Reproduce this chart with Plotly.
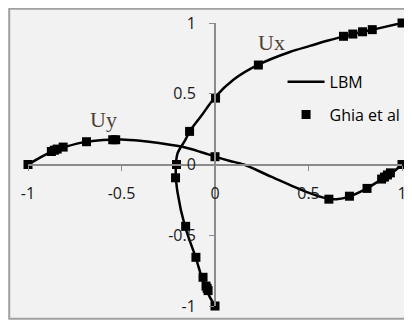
import plotly.graph_objects as go

# ---- data ----
# LBM, horizontal velocity Ux along the vertical centreline (x = Ux, y = position)
lbm_ux_u = [0.0, -0.03, -0.065, -0.105, -0.16, -0.2, -0.21, -0.2, -0.16, -0.135, -0.07, 0.0, 0.1, 0.232, 0.4, 0.508, 0.6, 0.75, 0.85, 1.0]
lbm_ux_y = [-1.0, -0.93, -0.82, -0.65, -0.44, -0.2, -0.05, 0.08, 0.17, 0.235, 0.35, 0.475, 0.6, 0.705, 0.795, 0.838, 0.875, 0.925, 0.955, 1.0]
# LBM, vertical velocity Uy along the horizontal centreline (x = position, y = Uy)
lbm_uy_x = [-1.0, -0.94, -0.87, -0.8, -0.7, -0.6, -0.5, -0.4, -0.3, -0.175, -0.08, 0.0, 0.08, 0.154, 0.3, 0.488, 0.6, 0.65, 0.72, 0.81, 0.89, 0.95, 1.0]
lbm_uy_v = [0.0, 0.045, 0.095, 0.125, 0.158, 0.174, 0.177, 0.168, 0.152, 0.125, 0.09, 0.056, 0.025, 0.0, -0.086, -0.193, -0.24, -0.245, -0.225, -0.17, -0.105, -0.055, 0.0]

# Ghia et al reference points
ghia_ux_u = [0.0, -0.037, -0.042, -0.048, -0.064, -0.102, -0.157, -0.211, -0.206, -0.136, 0.003, 0.232, 0.687, 0.737, 0.789, 0.841, 1.0]
ghia_ux_y = [-1.0, -0.891, -0.875, -0.859, -0.797, -0.656, -0.437, -0.094, 0.0, 0.234, 0.469, 0.703, 0.906, 0.922, 0.938, 0.953, 1.0]
ghia_uy_x = [1.0, 0.938, 0.922, 0.906, 0.891, 0.813, 0.719, 0.609, 0.0, -0.531, -0.547, -0.687, -0.812, -0.844, -0.859, -0.875, -1.0]
ghia_uy_v = [0.0, -0.059, -0.074, -0.089, -0.103, -0.169, -0.224, -0.245, 0.055, 0.175, 0.175, 0.161, 0.123, 0.109, 0.101, 0.092, 0.0]

tick_vals = [-1, -0.5, 0, 0.5, 1]
tick_text = ["-1", "-0.5", "0", "0.5", "1"]

# ---- figure ----
W, H = 412, 320
OFF = 8  # page offset of the figure inside the browser window
L, R, T, B = 19.8, 18, 15.3, 22.3
pw, ph = W - L - R, H - T - B

def px2paper_x(sx):
    return (sx - OFF - L) / pw

def px2paper_y(sy):
    return (H - B - (sy - OFF)) / ph

fig = go.Figure()
fig.add_trace(go.Scatter(x=lbm_ux_u, y=lbm_ux_y, mode="lines", name="LBM", cliponaxis=False,
                         line=dict(color="black", width=2.5, shape="spline", smoothing=0.8),
                         legendgroup="a"))
fig.add_trace(go.Scatter(x=lbm_uy_x, y=lbm_uy_v, mode="lines", name="LBM", showlegend=False,
                         cliponaxis=False,
                         line=dict(color="black", width=2.5, shape="spline", smoothing=0.8),
                         legendgroup="a"))
fig.add_trace(go.Scatter(x=ghia_ux_u, y=ghia_ux_y, mode="markers", name="Ghia et al",
                         cliponaxis=False,
                         marker=dict(symbol="square", size=9, color="black"),
                         legendgroup="b"))
fig.add_trace(go.Scatter(x=ghia_uy_x, y=ghia_uy_v, mode="markers", name="Ghia et al", showlegend=False,
                         cliponaxis=False,
                         marker=dict(symbol="square", size=9, color="black"),
                         legendgroup="b"))

axis_common = dict(range=[-1, 1], tickvals=tick_vals, ticktext=tick_text, showgrid=False,
                   zeroline=False, showline=True, linecolor="#8c8c8c", linewidth=2,
                   ticks="outside", ticklen=5, tickwidth=1, tickcolor="#8c8c8c",
                   tickfont=dict(family="Open Sans", size=16, color="#1a1a1a"),
                   anchor="free", position=0.5, automargin=False, fixedrange=True)

fig.update_layout(
    width=W, height=H,
    margin=dict(l=L, r=R, t=T, b=B, pad=0, autoexpand=False),
    paper_bgcolor="white", plot_bgcolor="rgba(0,0,0,0)",
    xaxis=dict(**axis_common, ticklabelstandoff=9),
    yaxis=dict(**axis_common, ticklabelstandoff=10),
    showlegend=True,
    legend=dict(x=px2paper_x(282.5), y=px2paper_y(65), xanchor="left", yanchor="top",
                bgcolor="rgba(0,0,0,0)", font=dict(family="Open Sans", size=16, color="black"),
                traceorder="grouped", tracegroupgap=9, itemwidth=37),
    shapes=[dict(type="rect", xref="paper", yref="paper",
                 x0=px2paper_x(9), x1=px2paper_x(440), y0=px2paper_y(318.5), y1=px2paper_y(9),
                 fillcolor="#f2f2f2", line=dict(color="#a0a0a0", width=2), layer="below")],
    annotations=[
        dict(x=0.30, y=0.865, text="Ux", showarrow=False, xref="x", yref="y",
             font=dict(family="Liberation Serif", size=22, color="#4d4033")),
        dict(x=-0.598, y=0.315, text="Uy", showarrow=False, xref="x", yref="y",
             font=dict(family="Liberation Serif", size=22, color="#4d4033")),
    ],
)

fig.write_html("out.html")
